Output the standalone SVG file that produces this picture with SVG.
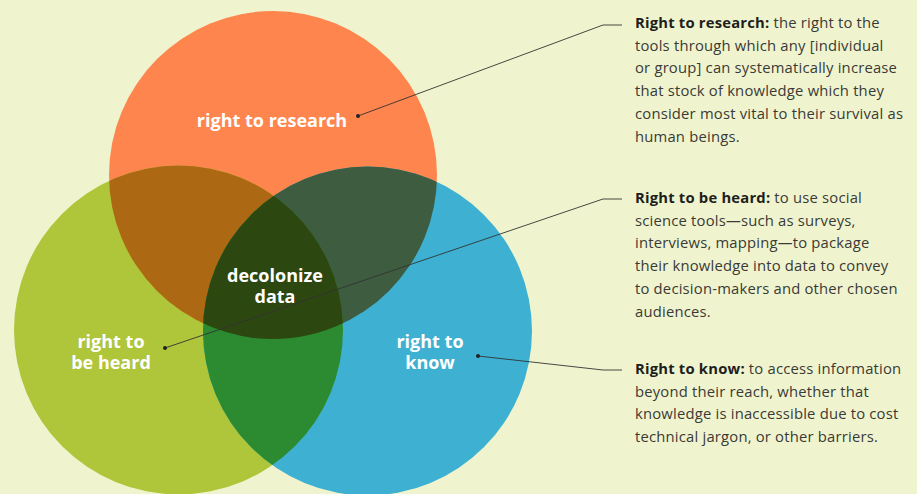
<svg xmlns="http://www.w3.org/2000/svg" width="917" height="494" viewBox="0 0 917 494">
<style>
.lbl{font-family:"Open Sans",Lato,"Liberation Sans",sans-serif;font-weight:700;font-size:18px;fill:#ffffff;text-anchor:middle}
.desc{font-family:"Open Sans",Lato,"Liberation Sans",sans-serif;font-size:14.8px;letter-spacing:0.2px;fill:#3a3a36}
.desc .b{font-weight:700;fill:#1e1e1c}
.lead{fill:none;stroke:#333333;stroke-width:0.9}
.dot{fill:#222222}
</style>
<defs>
<clipPath id="cO"><circle cx="273" cy="175" r="164"/></clipPath>
<clipPath id="cG"><circle cx="178.5" cy="330" r="164.5"/></clipPath>
<clipPath id="cOG" clip-path="url(#cO)"><circle cx="178.5" cy="330" r="164.5"/></clipPath>
</defs>
<rect width="917" height="494" fill="#F0F4CE"/>
<g id="circle-research"><circle cx="273" cy="175" r="164" fill="#FF854E"/></g>
<g id="circle-heard"><circle cx="178.5" cy="330" r="164.5" fill="#AFC53A"/></g>
<g id="circle-know"><circle cx="367.5" cy="331" r="164.5" fill="#3EB1D2"/></g>
<g id="overlaps">
<circle cx="178.5" cy="330" r="164.5" fill="#AD6813" clip-path="url(#cO)"/>
<circle cx="367.5" cy="331" r="164.5" fill="#3E5C3F" clip-path="url(#cO)"/>
<circle cx="367.5" cy="331" r="164.5" fill="#2C8A30" clip-path="url(#cG)"/>
<circle cx="367.5" cy="331" r="164.5" fill="#2C4710" clip-path="url(#cOG)"/>
</g>
<g id="labels">
<text class="lbl" x="272" y="127">right to research</text>
<text class="lbl" y="282"><tspan x="275">decolonize</tspan><tspan x="275" dy="20.5">data</tspan></text>
<text class="lbl" y="348"><tspan x="111">right to</tspan><tspan x="111" dy="21">be heard</tspan></text>
<text class="lbl" y="348"><tspan x="430">right to</tspan><tspan x="430" dy="21">know</tspan></text>
</g>
<g id="connectors">
<polyline class="lead" points="358,116 603,25 622,25"/>
<polyline class="lead" points="165,348 603,199 622,199"/>
<polyline class="lead" points="478,356 603,370 622,370"/>
<circle class="dot" cx="358" cy="116" r="2"/>
<circle class="dot" cx="165" cy="348" r="2"/>
<circle class="dot" cx="478" cy="356" r="2"/>
</g>
<g id="desc-research">
<text class="desc" x="635" y="28"><tspan class="b">Right to research:</tspan> the right to the</text>
<text class="desc" x="635" y="50.7">tools through which any [individual</text>
<text class="desc" x="635" y="73.4">or group] can systematically increase</text>
<text class="desc" x="635" y="96.1">that stock of knowledge which they</text>
<text class="desc" x="635" y="118.8">consider most vital to their survival as</text>
<text class="desc" x="635" y="141.5">human beings.</text>
</g>
<g id="desc-heard">
<text class="desc" x="635" y="203"><tspan class="b">Right to be heard:</tspan> to use social</text>
<text class="desc" x="635" y="225.7">science tools—such as surveys,</text>
<text class="desc" x="635" y="248.4">interviews, mapping—to package</text>
<text class="desc" x="635" y="271.1">their knowledge into data to convey</text>
<text class="desc" x="635" y="293.8">to decision-makers and other chosen</text>
<text class="desc" x="635" y="316.5">audiences.</text>
</g>
<g id="desc-know">
<text class="desc" x="635" y="374"><tspan class="b">Right to know:</tspan> to access information</text>
<text class="desc" x="635" y="396.7">beyond their reach, whether that</text>
<text class="desc" x="635" y="419.4">knowledge is inaccessible due to cost</text>
<text class="desc" x="635" y="442.1">technical jargon, or other barriers.</text>
</g>
</svg>
